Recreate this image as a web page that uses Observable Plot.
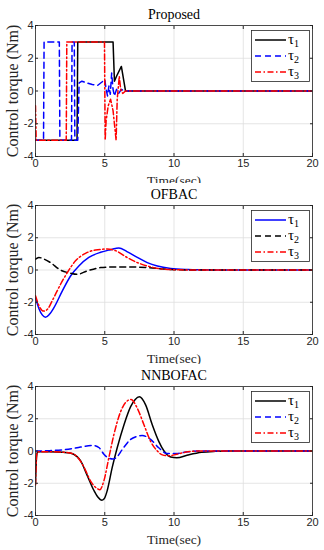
<!DOCTYPE html>
<html>
<head>
<meta charset="utf-8">
<script src="https://cdn.jsdelivr.net/npm/d3@7"></script>
<script src="https://cdn.jsdelivr.net/npm/@observablehq/plot@0.6"></script>
<style>
  body { margin: 0; background: white; }
  .panel { position: relative; width: 324px; }
  .legend { position: absolute; }
</style>
</head>
<body>
<div id="chart"></div>
<script>
// ---- tick values ----
const xTicks = [0, 5, 10, 15, 20];
const yTicks = [-4, -2, 0, 2, 4];
const legendLabels = ["1", "2", "3"]; // subscripts for τ
const titles = ["Proposed", "OFBAC", "NNBOFAC"];
const xLabel = "Time(sec)";
const yLabel = "Control torque (Nm)";

// ---- Panel 1: Proposed  [time, torque] ----
const propTau1 = [[0,-3],[3.0,-3],[3.05,3],[5.6,3],[5.7,0.6],[5.85,0.9],[6.2,1.5],[6.5,0],[20,0]];
const propTau2 = [[0,-3],[0.58,-3],[0.62,3],[1.72,3],[1.76,-3],[2.6,-3],[2.64,3],[2.8,3],[2.84,-3],[3.05,-3],[3.1,-1.2],[3.15,0.5],[3.35,0.6],[3.7,0.5],[4.1,0.4],[4.5,0.35],[4.8,0.55],[5.0,0.7],[5.1,0.1],[5.2,-0.3],[5.3,0.3],[5.4,-0.2],[5.5,1.1],[5.6,0.1],[5.7,-0.3],[5.85,0.1],[6.0,-0.15],[6.2,0.1],[6.4,0],[20,0]];
const propTau3 = [[0,-0.9],[0.05,-3],[2.22,-3],[2.26,3],[4.98,3],[5.03,-3],[5.1,-1.8],[5.25,-0.9],[5.42,-0.5],[5.6,-1.2],[5.82,-3],[5.9,-0.5],[6.05,0.9],[6.15,0.1],[6.3,-0.15],[6.5,0],[20,0]];

// ---- Panel 2: OFBAC ----
const ofbTau1 = [[0,-1.73],[0.25,-2.4],[0.5,-2.8],[0.72,-2.93],[1.0,-2.75],[1.32,-2.35],[1.93,-1.31],[2.53,-0.37],[3.13,0.25],[3.85,0.78],[4.7,1.1],[5.42,1.26],[6.02,1.37],[6.6,1.14],[7.35,0.78],[8.07,0.46],[8.8,0.25],[9.76,0.1],[11,0.03],[12,0.01],[13,0],[20,0]];
const ofbTau2 = [[0,0.67],[0.24,0.78],[0.6,0.68],[1.08,0.46],[1.8,0],[2.53,-0.2],[3.0,-0.27],[3.73,-0.06],[4.7,0.15],[5.66,0.19],[6.87,0.19],[8.07,0.15],[9.28,0.06],[11,0],[20,0]];
const ofbTau3 = [[0,-1.6],[0.3,-2.3],[0.6,-2.55],[0.9,-2.4],[1.2,-1.92],[1.8,-0.9],[2.29,-0.17],[2.89,0.57],[3.61,1.03],[4.33,1.24],[5.18,1.3],[5.78,1.2],[6.6,0.78],[7.35,0.46],[8.07,0.25],[9.28,0.05],[10.5,0.01],[12,0],[20,0]];

// ---- Panel 3: NNBOFAC ----
const nnTau1 = [[0,-2.05],[0.08,-0.3],[0.15,-0.05],[1,-0.05],[2,-0.08],[2.5,-0.12],[3.0,-0.35],[3.25,-0.6],[3.74,-1.53],[4.22,-2.45],[4.5,-2.85],[4.8,-3.05],[5.0,-2.9],[5.18,-2.45],[5.54,-1.02],[5.9,0.2],[6.39,1.63],[6.87,2.75],[7.2,3.2],[7.5,3.36],[7.95,2.86],[8.43,1.63],[8.9,0.6],[9.28,0],[9.76,-0.37],[10.2,-0.42],[11,-0.25],[12,-0.08],[13,-0.02],[14,0],[20,0]];
const nnTau2 = [[0,0],[1,0.02],[2,0.08],[3,0.2],[3.6,0.3],[4.2,0.34],[4.6,0.2],[4.94,-0.2],[5.3,-0.45],[5.6,-0.5],[5.9,-0.35],[6.27,0.1],[6.87,0.72],[7.3,0.9],[7.7,0.96],[8.31,0.72],[8.9,0.2],[9.5,-0.16],[10.2,-0.15],[11,-0.05],[12,0],[20,0]];
const nnTau3 = [[0,-2.1],[0.08,-0.3],[0.15,-0.05],[1,-0.05],[2,-0.08],[2.5,-0.12],[3.0,-0.35],[3.5,-1.0],[4.0,-1.9],[4.4,-2.3],[4.65,-2.4],[4.94,-1.84],[5.3,-0.4],[5.66,1.02],[6.15,2.45],[6.5,3.0],[6.9,3.2],[7.35,2.65],[7.83,1.63],[8.31,0.6],[8.8,0],[9.16,-0.24],[9.64,-0.3],[10.2,-0.2],[11,-0.05],[12,0],[20,0]];

// ---- styles ----
const SOLID = null, DASH = "6,4", DASHDOT = "6,2.5,1.5,2.5";
const SERIF = "'Liberation Serif', 'Times New Roman', serif";
const SANS = "'Liberation Sans', Arial, sans-serif";

const panels = [
  { title: titles[0], curve: "linear", height: 183, mt: 25, mb: 27,
    series: [
      { data: propTau1, color: "#000000", dash: SOLID },
      { data: propTau2, color: "#0000ff", dash: DASH },
      { data: propTau3, color: "#ff0000", dash: DASHDOT } ] },
  { title: titles[1], curve: "monotone-x", height: 181, mt: 22, mb: 30,
    series: [
      { data: ofbTau1, color: "#0000ff", dash: SOLID },
      { data: ofbTau2, color: "#000000", dash: DASH },
      { data: ofbTau3, color: "#ff0000", dash: DASHDOT } ] },
  { title: titles[2], curve: "monotone-x", height: 186, mt: 22, mb: 35,
    series: [
      { data: nnTau1, color: "#000000", dash: SOLID },
      { data: nnTau2, color: "#0000ff", dash: DASH },
      { data: nnTau3, color: "#ff0000", dash: DASHDOT } ] }
];

const ML = 35, MR = 12, W = 324;
const root = document.getElementById("chart");

for (const p of panels) {
  const div = document.createElement("div");
  div.className = "panel";
  const chart = Plot.plot({
    width: W, height: p.height,
    marginLeft: ML, marginRight: MR, marginTop: p.mt, marginBottom: p.mb,
    style: { fontFamily: SANS, fontSize: "11px", color: "#262626", background: "white", overflow: "visible" },
    x: { domain: [0, 20] },
    y: { domain: [-4, 4] },
    marks: [
      Plot.gridX(xTicks, { stroke: "#dedede", strokeOpacity: 1, strokeWidth: 0.8 }),
      Plot.gridY(yTicks, { stroke: "#dedede", strokeOpacity: 1, strokeWidth: 0.8 }),
      ...p.series.map(s => Plot.line(s.data, {
        x: d => d[0], y: d => d[1], stroke: s.color, strokeWidth: 1.5,
        strokeDasharray: s.dash, curve: p.curve, clip: true
      })),
      Plot.frame({ stroke: "#262626", strokeWidth: 0.8 }),
      Plot.axisX(xTicks, { anchor: "bottom", tickSize: -3, tickPadding: 6, tickFormat: d => String(d), label: null, stroke: "#262626" }),
      Plot.axisX(xTicks, { anchor: "top", tickSize: -3, tickFormat: () => "", label: null, stroke: "#262626" }),
      Plot.axisY(yTicks, { anchor: "left", tickSize: -3, tickPadding: 5, tickFormat: d => String(d), label: null, stroke: "#262626" }),
      Plot.axisY(yTicks, { anchor: "right", tickSize: -3, tickFormat: () => "", label: null, stroke: "#262626" }),
      Plot.text([p.title], { text: d => d, frameAnchor: "top", dy: -11, lineAnchor: "middle", textAnchor: "middle", fontFamily: SERIF, fontSize: 14, fill: "black" }),
      Plot.text([xLabel], { text: d => d, frameAnchor: "bottom", dy: 24, lineAnchor: "middle", textAnchor: "middle", fontFamily: SERIF, fontSize: 13.5, fill: "#262626" }),
      Plot.text([yLabel], { text: d => d, frameAnchor: "left", dx: -23, rotate: -90, lineAnchor: "middle", textAnchor: "middle", fontFamily: SERIF, fontSize: 16, fill: "#262626" })
    ]
  });
  div.appendChild(chart);

  // legend box inside the axes, top-right
  const lw = 59, lh = 52;
  const leg = d3.create("svg").attr("class", "legend")
    .attr("width", lw).attr("height", lh)
    .style("left", (W - MR - 2 - lw) + "px").style("top", (p.mt + 5) + "px");
  leg.append("rect").attr("x", 0.5).attr("y", 0.5).attr("width", lw - 1).attr("height", lh - 1)
    .attr("fill", "white").attr("stroke", "#262626").attr("stroke-width", 0.8);
  p.series.forEach((s, i) => {
    const y = 10 + i * 16;
    leg.append("line").attr("x1", 4).attr("x2", 35).attr("y1", y).attr("y2", y)
      .attr("stroke", s.color).attr("stroke-width", 1.5)
      .attr("stroke-dasharray", s.dash);
    const t = leg.append("text").attr("x", 37).attr("y", y + 4)
      .attr("font-family", SERIF).attr("font-size", 15).attr("fill", "#000");
    t.append("tspan").text("τ");
    t.append("tspan").attr("font-size", 10).attr("dy", 3).text(legendLabels[i]);
  });
  div.appendChild(leg.node());
  root.appendChild(div);
}
</script>
</body>
</html>
